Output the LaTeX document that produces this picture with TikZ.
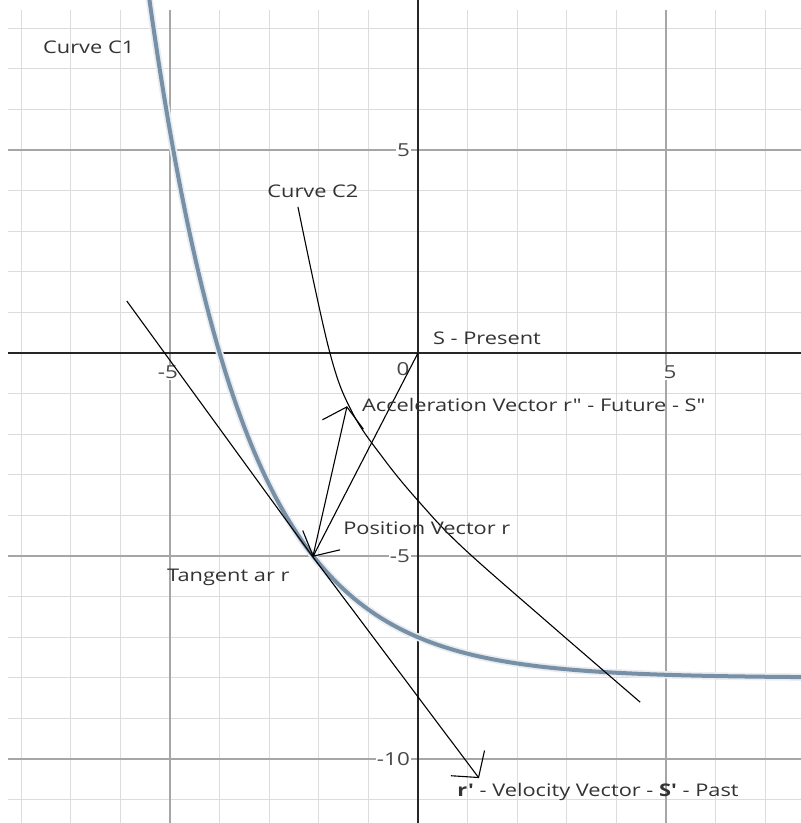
\documentclass[tikz,border=0pt]{standalone}
\usepackage{fontspec}
\setmainfont{Open Sans}[Ligatures=TeXOff,FakeStretch=1.25]
\usetikzlibrary{arrows.meta}
\definecolor{cGrid} {HTML}{DCDCDC}
\definecolor{cMajor}{HTML}{A6A6A6}
\definecolor{cCurve}{HTML}{7890A6}
\definecolor{cText} {HTML}{333333}
\tikzset{
  gridln/.style ={draw=cGrid,line width=1bp},
  gridmaj/.style={draw=cMajor,line width=1.1bp},
  axis/.style   ={draw=black!85,line width=2.4bp},
  crv/.style    ={draw=cCurve,line width=4bp},
  halo/.style   ={draw=cCurve!16,line width=7.5bp},
  thin/.style   ={draw=black,line width=1.1bp},
  vec/.style    ={thin,-{Straight Barb[length=18bp,width=42bp]}},
  lbl/.style    ={font=\fontsize{17.5}{20}\selectfont,text=cText,inner sep=0pt,anchor=west},
  tick/.style   ={font=\fontsize{18}{20}\selectfont,text=black!72,fill=white,inner sep=1pt},
}

\begin{document}
\begin{tikzpicture}[x=49.6bp,y=40.6bp]
\useasboundingbox (-8.427,-11.576) rectangle (7.722,8.695);

% ---- grid -----------------------------------------------------------
\draw[gridln,step=1]  (-8.27,-11.576) grid (7.722,8.45);
\draw[gridmaj,step=5] (-8.27,-11.576) grid (7.722,8.45);

% ---- tick labels ----------------------------------------------------
\node[tick] (tx1) at (-5.04,-0.47) {-5};
\node[tick] (tx2) at (-0.30,-0.40) {0};
\node[tick] (tx3) at (5.08,-0.47)  {5};
\node[tick,anchor=east] (ty1) at (-0.14,5)   {5};
\node[tick,anchor=east] (ty2) at (-0.14,-5)  {-5};
\node[tick,anchor=east] (ty3) at (-0.14,-10) {-10};

% ---- axes -----------------------------------------------------------
\draw[axis] (-8.27,0) -- (7.722,0);
\draw[axis] (0,8.695) -- (0,-11.576);

% ---- curve C1 -------------------------------------------------------
\begin{scope}
\clip (-8.427,-11.576) rectangle (7.722,8.695);
\draw[halo] plot[domain=-5.45:7.8,samples=120,smooth] (\x,{exp(-0.52*\x)-8});
\draw[crv]  plot[domain=-5.45:7.8,samples=120,smooth] (\x,{exp(-0.52*\x)-8});
\end{scope}

% ---- curve C2 -------------------------------------------------------
\draw[thin] plot[smooth,tension=0.6] coordinates {(-2.42,3.60) (-1.79,0.07)
  (-1.33,-1.45) (-0.67,-2.64) (0.04,-3.69) (0.91,-4.80) (2.66,-6.68)
  (4.48,-8.60)};

% ---- vectors --------------------------------------------------------
\coordinate (O) at (0,0);
\coordinate (P) at (-2.12,-5.02);
\coordinate (A) at (-1.43,-1.31);
\coordinate (V) at (1.23,-10.47);
\coordinate (T) at (-5.87,1.28);
\draw[thin] (T) -- (P);
\draw[vec] (P) -- (V);
\draw[vec] (O) -- (P);
\draw[vec] (P) -- (A);

% ---- labels ---------------------------------------------------------
\node[lbl] (c1)   at (-7.56,7.54)  {Curve C1};
\node[lbl] (c2)   at (-3.04,3.99)  {Curve C2};
\node[lbl] (pres) at (0.30,0.37)   {S - Present};
\node[lbl] (acc)  at (-1.13,-1.28) {Acceleration Vector r" - Future - S"};
\node[lbl] (pos)  at (-1.51,-4.31) {Position Vector r};
\node[lbl] (tan)  at (-5.06,-5.52) {Tangent ar r};
\node[lbl] (vel)  at (0.79,-10.81) {\textbf{r'} - Velocity Vector - \textbf{S'} - Past};
\end{tikzpicture}
\end{document}
